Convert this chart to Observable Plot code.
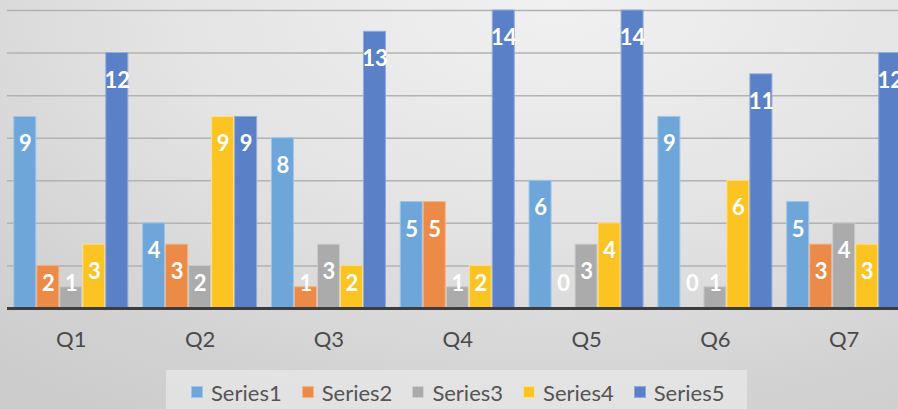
<!DOCTYPE html>
<html>
<head>
<meta charset="utf-8">
<script src="https://cdn.jsdelivr.net/npm/d3@7"></script>
<script src="https://cdn.jsdelivr.net/npm/@observablehq/plot@0.6"></script>
<style>
  html, body { margin: 0; padding: 0; }
  #wrap {
    position: relative; width: 898px; height: 409px; overflow: hidden;
    background: radial-gradient(ellipse 95% 120% at 62% 0%, #f1f1f1 0%, #e4e4e4 45%, #d3d3d3 80%, #cccccc 100%);
    font-family: Lato, "DejaVu Sans", sans-serif;
  }
  #chart svg { display: block; background: transparent; }
  #legend {
    position: absolute; left: 166px; top: 370px; width: 581px; height: 50px;
    background: rgba(240,240,240,0.55);
    display: flex; align-items: flex-start; padding-top: 9px; box-sizing: border-box; padding-left: 25px;
    color: #555555; font-size: 22px;
  }
  .item { display: flex; align-items: center; margin-right: 20px; height: 26px; }
  .sw { width: 12px; height: 12px; margin-right: 8px; box-sizing: border-box; }
</style>
</head>
<body>
<div id="wrap">
  <div id="chart"></div>
  <div id="legend"></div>
</div>
<script>
const quarters = ["Q1", "Q2", "Q3", "Q4", "Q5", "Q6", "Q7"];
const seriesNames = ["Series1", "Series2", "Series3", "Series4", "Series5"];
const series1 = [9, 4, 8, 5, 6, 9, 5];
const series2 = [2, 3, 1, 5, 0, 0, 3];
const series3 = [1, 2, 3, 1, 3, 1, 4];
const series4 = [3, 9, 2, 2, 4, 6, 3];
const series5 = [12, 9, 13, 14, 14, 11, 12];
const yTicks = [2, 4, 6, 8, 10, 12, 14];
const colors = ["#6ea6da", "#ec8a47", "#ababab", "#fbc423", "#5a80c8"];
const strokes = ["#9fc5ea", "#f5b387", "#cdcdcd", "#fde18a", "#91abdc"];

const allSeries = [series1, series2, series3, series4, series5];
const rows = [];
allSeries.forEach((vals, si) => vals.forEach((v, qi) => rows.push({quarter: quarters[qi], series: seriesNames[si], si, value: v})));

const width = 898, height = 362;
const marginTop = 10, marginBottom = 54;
const xRange = [-0.5, 915];
const pad = 0.107;
const step = (xRange[1] - xRange[0]) / (quarters.length - pad + 2 * pad);
const bw = step * (1 - pad) / seriesNames.length;
const pxPerUnit = (height - marginBottom - marginTop) / 14;

const marks = [
  Plot.ruleY(yTicks, {stroke: "#b2b2b2", strokeWidth: 1.5})
];
seriesNames.forEach((name, i) => {
  const data = rows.filter(d => d.si === i);
  marks.push(Plot.barY(data, {
    x: "quarter", y: "value",
    fill: colors[i], stroke: strokes[i], strokeWidth: 1,
    insetLeft: i * bw + 0.5, insetRight: (seriesNames.length - 1 - i) * bw + 0.5
  }));
});
marks.push(Plot.ruleY([0], {stroke: "#3d3d3d", strokeWidth: 3}));
seriesNames.forEach((name, i) => {
  const data = rows.filter(d => d.si === i);
  marks.push(Plot.text(data, {
    x: "quarter",
    y: d => Math.max(d.value - 27.5 / pxPerUnit, 25 / pxPerUnit),
    text: d => String(d.value),
    dx: (i - 2) * bw,
    fill: "white", fontWeight: "bold", fontSize: 22, lineAnchor: "middle",
    fontFamily: "Lato, sans-serif"
  }));
});
marks.push(Plot.axisX({tickSize: 0, tickPadding: 23, fontSize: 22, color: "#4a4a4a", fontFamily: "Lato, sans-serif"}));

const plot = Plot.plot({
  width, height, marginTop, marginBottom, marginLeft: 7, marginRight: 0,
  style: {background: "transparent", fontFamily: "Lato, sans-serif", overflow: "visible"},
  x: {domain: quarters, range: xRange, paddingInner: pad, paddingOuter: pad, round: false, label: null, axis: null},
  y: {domain: [0, 14], axis: null},
  marks
});
document.getElementById("chart").appendChild(plot);

const legend = document.getElementById("legend");
seriesNames.forEach((name, i) => {
  const it = document.createElement("div");
  it.className = "item";
  const sw = document.createElement("div");
  sw.className = "sw";
  sw.style.background = colors[i];
  sw.style.border = "1px solid " + strokes[i];
  const t = document.createElement("span");
  t.textContent = name;
  it.appendChild(sw); it.appendChild(t);
  legend.appendChild(it);
});
</script>
</body>
</html>
